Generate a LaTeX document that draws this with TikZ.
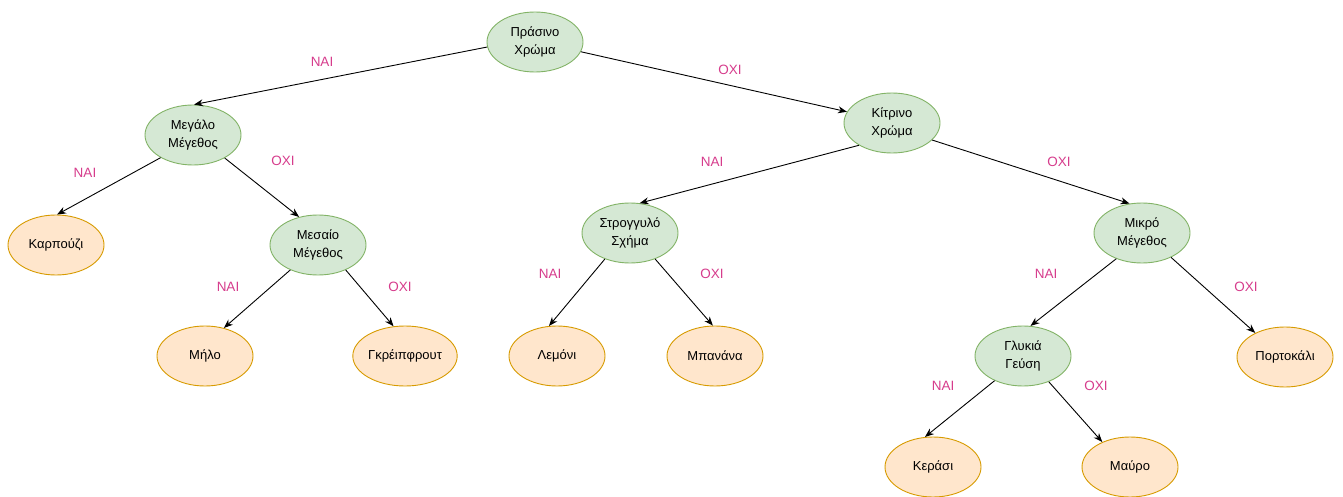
\documentclass[tikz,border=0pt]{standalone}
\usepackage{fontspec}
\setmainfont{Liberation Sans}
\usetikzlibrary{shapes.geometric,arrows.meta}
\definecolor{qfill}{RGB}{213,232,212}
\definecolor{qline}{RGB}{130,179,102}
\definecolor{afill}{RGB}{255,230,204}
\definecolor{aline}{RGB}{215,155,0}
\definecolor{lbl}{RGB}{214,60,140}
\tikzset{
  question/.style={ellipse, draw=qline, fill=qfill, line width=0.9pt, minimum width=96pt,
    minimum height=60pt, inner sep=0pt, align=center, font=\fontsize{13}{18}\selectfont},
  answer/.style={question, draw=aline, fill=afill},
  branch/.style={-{Stealth[length=9pt,width=7pt]}, line width=0.9pt},
  yesno/.style={text=lbl, font=\fontsize{13.5}{15}\selectfont}
}
\begin{document}
\begin{tikzpicture}[x=1pt,y=-1pt]
  \useasboundingbox (0,0) rectangle (1343,497);
  % questions
  \node[question] (green) at (535,42) {Πράσινο\\Χρώμα};
  \node[question] (big) at (193,135) {Μεγάλο\\Μέγεθος};
  \node[question] (yellow) at (892,123) {Κίτρινο\\Χρώμα};
  \node[question] (medium) at (318,245) {Μεσαίο\\Μέγεθος};
  \node[question] (round) at (630,233) {Στρογγυλό\\Σχήμα};
  \node[question] (small) at (1142,233) {Μικρό\\Μέγεθος};
  \node[question] (sweet) at (1023,356) {Γλυκιά\\Γεύση};
  % answers
  \node[answer] (melon) at (56,245) {Καρπούζι};
  \node[answer] (apple) at (205,356) {Μήλο};
  \node[answer] (grapefruit) at (405,356) {Γκρέιπφρουτ};
  \node[answer] (lemon) at (557,356) {Λεμόνι};
  \node[answer] (banana) at (715,356) {Μπανάνα};
  \node[answer] (orange) at (1285,357) {Πορτοκάλι};
  \node[answer] (cherry) at (933,467) {Κεράσι};
  \node[answer] (plum) at (1130,467) {Μαύρο};
  % branches
  \draw[branch] (green.186) -- (big.88);
  \draw[branch] (green.348) -- (yellow.166);
  \draw[branch] (big.215) -- (melon.88);
  \draw[branch] (big.324) -- (medium.124);
  \draw[branch] (yellow.214) -- (round.72);
  \draw[branch] (yellow.337) -- (small.113);
  \draw[branch] (medium.222) -- (apple.56);
  \draw[branch] (medium.318) -- (grapefruit.111);
  \draw[branch] (round.226) -- (lemon.105);
  \draw[branch] (round.314) -- (banana.94);
  \draw[branch] (small.225) -- (sweet.76);
  \draw[branch] (small.320) -- (orange.141);
  \draw[branch] (sweet.221) -- (cherry.105);
  \draw[branch] (sweet.315) -- (plum.138);
  % labels
  \node[yesno] (y1) at (322,62) {ΝΑΙ};
  \node[yesno] (n1) at (730,70) {ΟΧΙ};
  \node[yesno] (y2) at (85,173) {ΝΑΙ};
  \node[yesno] (n2) at (283,161) {ΟΧΙ};
  \node[yesno] (y3) at (712,162) {ΝΑΙ};
  \node[yesno] (n3) at (1059,162) {ΟΧΙ};
  \node[yesno] (y4) at (228,287) {ΝΑΙ};
  \node[yesno] (n4) at (400,287) {ΟΧΙ};
  \node[yesno] (y5) at (550,274) {ΝΑΙ};
  \node[yesno] (n5) at (712,274) {ΟΧΙ};
  \node[yesno] (y6) at (1046,274) {ΝΑΙ};
  \node[yesno] (n6) at (1246,287) {ΟΧΙ};
  \node[yesno] (y7) at (943,386) {ΝΑΙ};
  \node[yesno] (n7) at (1096,386) {ΟΧΙ};
\end{tikzpicture}
\end{document}
